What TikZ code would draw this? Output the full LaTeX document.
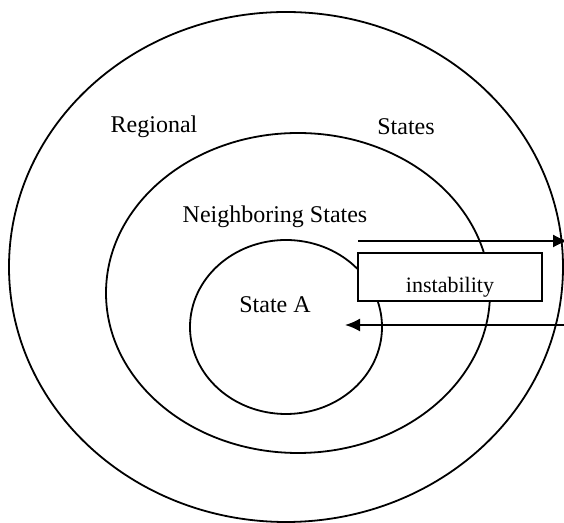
\documentclass[tikz,border=0pt]{standalone}
\usepackage{fontspec}
\setmainfont{Liberation Serif}
\usetikzlibrary{arrows.meta}
\tikzset{arrow/.style={->, >={Latex[length=7.5pt, width=6.5pt]}, line width=0.9pt}}
\tikzset{ring/.style={line width=0.9pt}}
\tikzset{lbl/.style={font=\fontsize{12}{14}\selectfont, inner sep=0pt}}

\begin{document}
\begin{tikzpicture}[x=0.5pt, y=-0.5pt]
    \useasboundingbox (0,0) rectangle (564,523);
    \draw[ring] (286,267) ellipse [x radius=277, y radius=255];
    \draw[ring] (298,293) ellipse [x radius=192, y radius=160];
    \draw[ring] (286,327) ellipse [x radius=96, y radius=87];
    \node[lbl] (regional) at (154,127) {Regional};
    \node[lbl] (states) at (406,127) {States};
    \node[lbl] (neighbor) at (275,217) {Neighboring States};
    \node[lbl] (statea) at (275,305) {State A};
    \node[draw, line width=0.9pt, fill=white, minimum width=92pt, minimum height=24pt, inner sep=0pt] (box) at (450,277) {};
    \node[lbl, anchor=south] (instab) at ([yshift=2pt]box.south) {\fontsize{11}{13}\selectfont instability};
    \coordinate (outA) at (358,241);
    \coordinate (outB) at (568,241);
    \coordinate (inA) at (564,325);
    \coordinate (inB) at (345,325);
    \draw[arrow] (outA) -- (outB);
    \draw[arrow] (inA) -- (inB);
  \end{tikzpicture}
\end{document}
